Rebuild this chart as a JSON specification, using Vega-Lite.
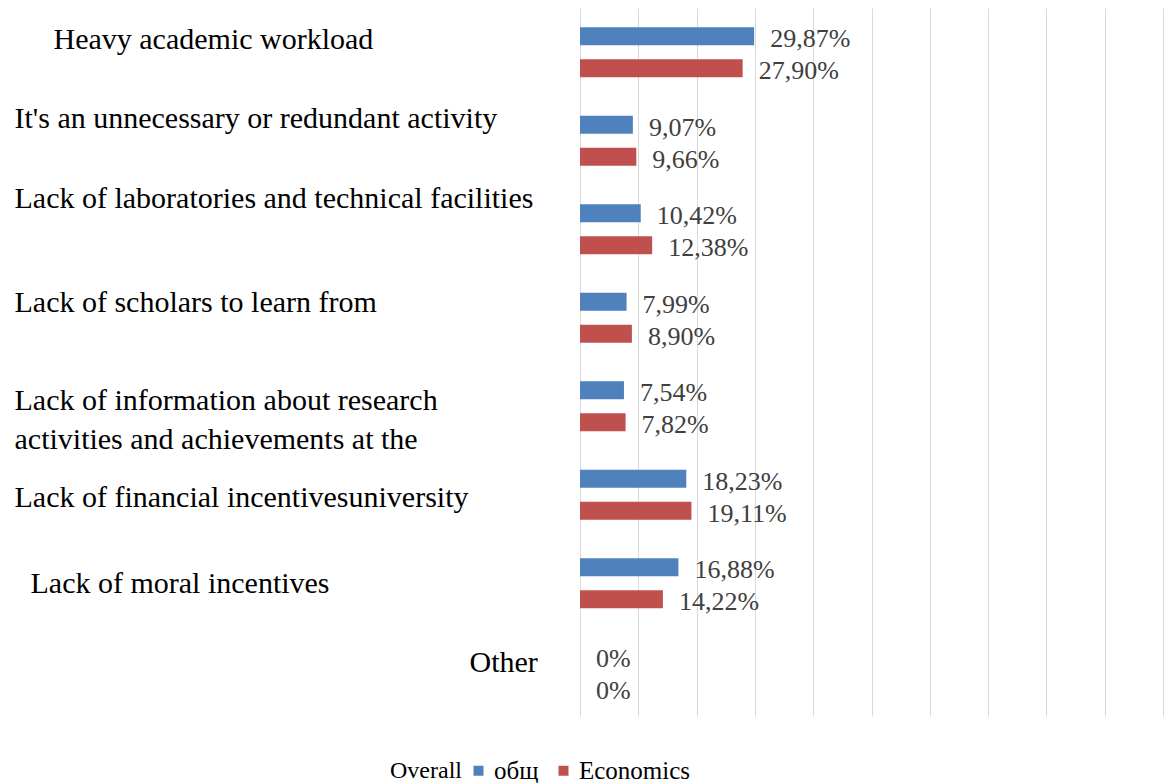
{
  "$schema": "https://vega.github.io/schema/vega-lite/v6.json",
  "width": 583,
  "height": 708,
  "autosize": {"type": "none"},
  "padding": {"left": 580, "top": 8, "right": 1, "bottom": 67},
  "background": "white",
  "config": {"view": {"stroke": null}, "font": "Liberation Serif"},
  "data": {
    "values": [
      {"cause": "Heavy academic workload", "group": "общ", "value": 29.87},
      {"cause": "Heavy academic workload", "group": "Economics", "value": 27.90},
      {"cause": "It's an unnecessary or redundant activity", "group": "общ", "value": 9.07},
      {"cause": "It's an unnecessary or redundant activity", "group": "Economics", "value": 9.66},
      {"cause": "Lack of laboratories and technical facilities", "group": "общ", "value": 10.42},
      {"cause": "Lack of laboratories and technical facilities", "group": "Economics", "value": 12.38},
      {"cause": "Lack of scholars to learn from", "group": "общ", "value": 7.99},
      {"cause": "Lack of scholars to learn from", "group": "Economics", "value": 8.90},
      {"cause": "Lack of information about research activities and achievements at the", "group": "общ", "value": 7.54},
      {"cause": "Lack of information about research activities and achievements at the", "group": "Economics", "value": 7.82},
      {"cause": "Lack of financial incentivesuniversity", "group": "общ", "value": 18.23},
      {"cause": "Lack of financial incentivesuniversity", "group": "Economics", "value": 19.11},
      {"cause": "Lack of moral incentives", "group": "общ", "value": 16.88},
      {"cause": "Lack of moral incentives", "group": "Economics", "value": 14.22},
      {"cause": "Other", "group": "общ", "value": 0},
      {"cause": "Other", "group": "Economics", "value": 0}
    ]
  },
  "transform": [
    {"calculate": "datum.value === 0 ? '0%' : replace(format(datum.value, '.2f'), '.', ',') + '%'", "as": "label"}
  ],
  "encoding": {
    "y": {
      "field": "cause",
      "type": "nominal",
      "sort": null,
      "scale": {"paddingInner": 0.28, "paddingOuter": 0.14},
      "axis": {
        "title": null,
        "ticks": false,
        "tickSize": 0,
        "domain": false,
        "labelAlign": "left",
        "labelBaseline": "middle",
        "labelPadding": {
          "condition": [
            {"test": "indexof(datum.value, 'Heavy') >= 0", "value": 527},
            {"test": "indexof(datum.value, 'moral') >= 0", "value": 550},
            {"test": "datum.value === 'Other'", "value": 111}
          ],
          "value": 566
        },
        "labelOffset": {
          "condition": [
            {"test": "indexof(datum.value, 'Heavy') >= 0", "value": -12},
            {"test": "indexof(datum.value, 'unnecessary') >= 0", "value": -22},
            {"test": "indexof(datum.value, 'laboratories') >= 0", "value": -30},
            {"test": "indexof(datum.value, 'scholars') >= 0", "value": -15},
            {"test": "indexof(datum.value, 'information') >= 0", "value": -5},
            {"test": "indexof(datum.value, 'financial') >= 0", "value": 3},
            {"test": "indexof(datum.value, 'moral') >= 0", "value": 1},
            {"test": "datum.value === 'Other'", "value": -9}
          ],
          "value": 0
        },
        "labelFont": "Liberation Serif",
        "labelFontSize": 30,
        "labelLineHeight": 39,
        "labelColor": "#000000",
        "labelLimit": 0,
        "labelOverlap": false,
        "labelBound": false,
        "labelExpr": "indexof(datum.value, 'information') >= 0 ? ['Lack of information about research', 'activities and achievements at the'] : datum.label"
      }
    },
    "yOffset": {
      "field": "group",
      "sort": ["общ", "Economics"],
      "scale": {"paddingInner": 0.4375, "paddingOuter": 0.21875}
    },
    "x": {
      "field": "value",
      "type": "quantitative",
      "scale": {"domain": [0, 100], "nice": false},
      "axis": {
        "values": [0, 10, 20, 30, 40, 50, 60, 70, 80, 90, 100],
        "grid": true,
        "gridColor": "#D9D9D9",
        "gridWidth": 1,
        "labels": false,
        "ticks": false,
        "domain": false,
        "title": null
      }
    }
  },
  "layer": [
    {
      "mark": {"type": "bar"},
      "encoding": {
        "color": {
          "field": "group",
          "type": "nominal",
          "scale": {"domain": ["общ", "Economics"], "range": ["#4F81BD", "#C0504D"]},
          "legend": {
            "orient": "none",
            "legendX": -190,
            "legendY": 750,
            "direction": "horizontal",
            "title": "Overall",
            "titleOrient": "left",
            "titleFont": "Liberation Serif",
            "titleFontSize": 24,
            "titleFontWeight": "normal",
            "titleColor": "#000000",
            "titlePadding": 4,
            "labelFont": "Liberation Serif",
            "labelFontSize": 25,
            "labelColor": "#000000",
            "symbolType": "square",
            "symbolSize": 100,
            "symbolStrokeWidth": 0,
            "labelOffset": 3,
            "columnPadding": 12,
            "encode": {
              "labels": {
                "fill": {"condition": {"test": "datum.value === 'общ'", "value": "#595959"}, "value": "#000000"}
              }
            }
          }
        }
      }
    },
    {
      "mark": {
        "type": "text",
        "align": "left",
        "baseline": "middle",
        "dx": 16,
        "dy": 3,
        "fontSize": 26,
        "font": "Liberation Serif",
        "color": "#404040"
      },
      "encoding": {"text": {"field": "label", "type": "nominal"}}
    }
  ]
}
